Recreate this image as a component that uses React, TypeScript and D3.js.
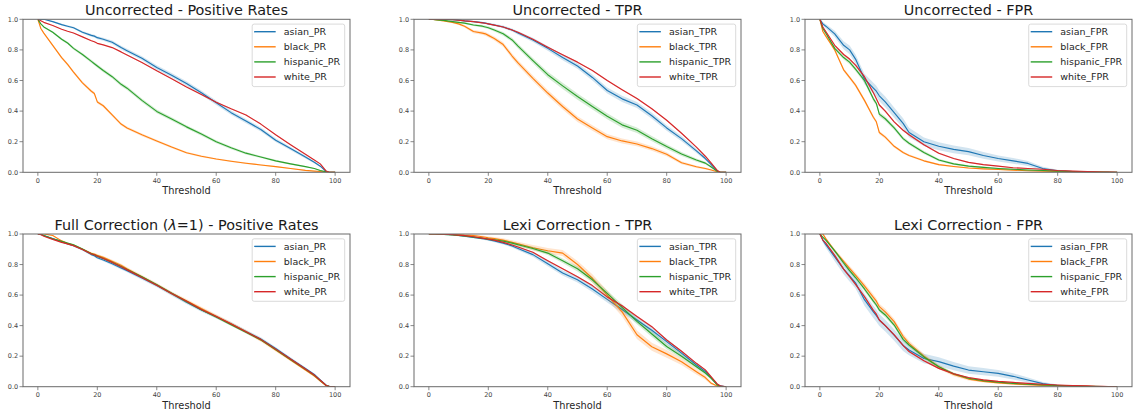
import React from 'react';
import * as d3 from 'd3';

// Threshold grid shared by every series
const THRESHOLDS = [0, 1, 2, 5, 8, 10, 12, 15, 18, 19, 20, 22, 25, 28, 30, 35, 40, 45, 50, 55, 60, 65, 70, 75, 80, 85, 90, 93, 95, 97, 98, 100];
const GROUPS = ['asian', 'black', 'hispanic', 'white'];
const COLORS = ['#1f77b4', '#ff7f0e', '#2ca02c', '#d62728'];
const X_TICKS = [0, 20, 40, 60, 80, 100];
const Y_TICKS = [0, 0.2, 0.4, 0.6, 0.8, 1.0];

// Uncorrected - Positive Rates
const uncPR_asian = [1, 1, 1, 0.985, 0.965, 0.955, 0.945, 0.915, 0.895, 0.89, 0.88, 0.87, 0.85, 0.815, 0.795, 0.745, 0.685, 0.635, 0.58, 0.52, 0.455, 0.39, 0.335, 0.28, 0.21, 0.155, 0.1, 0.065, 0.04, 0.005, 0, 0];
const uncPR_black = [1, 0.94, 0.91, 0.83, 0.75, 0.705, 0.655, 0.585, 0.53, 0.515, 0.46, 0.435, 0.375, 0.315, 0.29, 0.245, 0.205, 0.165, 0.128, 0.105, 0.087, 0.072, 0.059, 0.048, 0.037, 0.025, 0.013, 0.008, 0.005, 0.001, 0, 0];
const uncPR_hispanic = [1, 0.97, 0.95, 0.915, 0.87, 0.845, 0.81, 0.77, 0.725, 0.71, 0.695, 0.665, 0.625, 0.575, 0.55, 0.47, 0.398, 0.348, 0.297, 0.25, 0.2, 0.16, 0.125, 0.1, 0.075, 0.055, 0.037, 0.025, 0.012, 0.003, 0, 0];
const uncPR_white = [1, 0.99, 0.98, 0.96, 0.935, 0.922, 0.91, 0.885, 0.86, 0.853, 0.843, 0.833, 0.815, 0.787, 0.767, 0.718, 0.663, 0.612, 0.558, 0.508, 0.458, 0.415, 0.375, 0.315, 0.245, 0.18, 0.118, 0.08, 0.055, 0.008, 0, 0];
const uncPR_ci = [0.015, 0.01, 0.012, 0.004];

// Uncorrected - TPR
const uncTPR_asian = [1, 1, 1, 1, 0.998, 0.995, 0.99, 0.985, 0.978, 0.975, 0.97, 0.963, 0.95, 0.93, 0.91, 0.865, 0.81, 0.75, 0.695, 0.62, 0.535, 0.48, 0.44, 0.37, 0.29, 0.22, 0.14, 0.09, 0.05, 0.01, 0, 0];
const uncTPR_black = [1, 1, 0.998, 0.99, 0.98, 0.97, 0.955, 0.92, 0.91, 0.905, 0.895, 0.875, 0.835, 0.76, 0.715, 0.614, 0.518, 0.43, 0.348, 0.29, 0.233, 0.205, 0.185, 0.155, 0.118, 0.062, 0.036, 0.025, 0.015, 0.004, 0, 0];
const uncTPR_hispanic = [1, 1, 0.998, 0.993, 0.985, 0.98, 0.975, 0.963, 0.955, 0.95, 0.945, 0.93, 0.905, 0.865, 0.825, 0.73, 0.638, 0.565, 0.495, 0.43, 0.366, 0.31, 0.275, 0.22, 0.168, 0.12, 0.08, 0.06, 0.035, 0.006, 0, 0];
const uncTPR_white = [1, 1, 1, 1, 0.998, 0.995, 0.99, 0.985, 0.977, 0.974, 0.97, 0.962, 0.95, 0.93, 0.915, 0.87, 0.818, 0.768, 0.72, 0.665, 0.6, 0.54, 0.482, 0.415, 0.34, 0.255, 0.165, 0.105, 0.06, 0.012, 0, 0];
const uncTPR_ci = [0.02, 0.02, 0.02, 0.005];

// Uncorrected - FPR
const uncFPR_asian = [1, 0.97, 0.955, 0.905, 0.83, 0.8, 0.74, 0.61, 0.55, 0.53, 0.5, 0.46, 0.39, 0.32, 0.26, 0.2, 0.17, 0.15, 0.135, 0.11, 0.09, 0.075, 0.058, 0.025, 0.01, 0.004, 0.001, 0, 0, 0, 0, 0];
const uncFPR_black = [1, 0.92, 0.89, 0.8, 0.67, 0.62, 0.57, 0.47, 0.36, 0.33, 0.26, 0.23, 0.17, 0.13, 0.11, 0.075, 0.05, 0.038, 0.028, 0.022, 0.018, 0.014, 0.01, 0.008, 0.005, 0.003, 0.002, 0.001, 0.001, 0, 0, 0];
const uncFPR_hispanic = [1, 0.94, 0.91, 0.81, 0.75, 0.72, 0.675, 0.6, 0.48, 0.45, 0.38, 0.35, 0.29, 0.22, 0.19, 0.13, 0.08, 0.055, 0.04, 0.032, 0.025, 0.02, 0.015, 0.012, 0.008, 0.005, 0.003, 0.002, 0.001, 0.001, 0, 0];
const uncFPR_white = [1, 0.95, 0.92, 0.83, 0.77, 0.74, 0.7, 0.625, 0.52, 0.48, 0.44, 0.4, 0.33, 0.275, 0.245, 0.18, 0.125, 0.09, 0.065, 0.05, 0.04, 0.03, 0.025, 0.02, 0.012, 0.008, 0.005, 0.003, 0.002, 0.001, 0.001, 0];
const uncFPR_ci = [0.035, 0.012, 0.015, 0.008];

// Full Correction - Positive Rates
const fullPR_asian = [1, 0.998, 0.99, 0.97, 0.95, 0.935, 0.923, 0.898, 0.865, 0.858, 0.845, 0.83, 0.805, 0.777, 0.76, 0.712, 0.662, 0.608, 0.553, 0.503, 0.458, 0.412, 0.362, 0.312, 0.25, 0.183, 0.12, 0.08, 0.045, 0.01, 0.003, 0];
const fullPR_black = [1, 1, 1, 0.99, 0.955, 0.937, 0.926, 0.9, 0.873, 0.868, 0.86, 0.847, 0.822, 0.795, 0.772, 0.72, 0.668, 0.612, 0.562, 0.512, 0.462, 0.412, 0.36, 0.305, 0.24, 0.175, 0.11, 0.07, 0.037, 0.006, 0.001, 0];
const fullPR_hispanic = [1, 0.997, 0.99, 0.968, 0.952, 0.94, 0.93, 0.902, 0.87, 0.864, 0.855, 0.84, 0.815, 0.787, 0.768, 0.72, 0.668, 0.612, 0.558, 0.504, 0.457, 0.405, 0.357, 0.308, 0.244, 0.178, 0.114, 0.074, 0.04, 0.008, 0.002, 0];
const fullPR_white = [1, 0.996, 0.985, 0.965, 0.945, 0.935, 0.924, 0.899, 0.869, 0.864, 0.854, 0.839, 0.814, 0.785, 0.765, 0.715, 0.665, 0.61, 0.56, 0.505, 0.46, 0.41, 0.36, 0.31, 0.246, 0.181, 0.116, 0.076, 0.042, 0.008, 0.002, 0];
const fullPR_ci = [0.012, 0.012, 0.008, 0.004];

// Lexi Correction - TPR
const lexTPR_asian = [1, 1, 1, 0.998, 0.995, 0.99, 0.985, 0.978, 0.97, 0.967, 0.963, 0.955, 0.94, 0.922, 0.905, 0.865, 0.805, 0.745, 0.7, 0.64, 0.572, 0.505, 0.437, 0.37, 0.295, 0.22, 0.142, 0.1, 0.058, 0.015, 0.005, 0];
const lexTPR_black = [1, 1, 1, 1, 0.998, 0.996, 0.993, 0.99, 0.982, 0.979, 0.975, 0.97, 0.96, 0.945, 0.935, 0.91, 0.89, 0.875, 0.8, 0.71, 0.6, 0.49, 0.34, 0.262, 0.215, 0.164, 0.098, 0.06, 0.022, 0.004, 0, 0];
const lexTPR_hispanic = [1, 1, 1, 0.998, 0.994, 0.99, 0.987, 0.98, 0.972, 0.969, 0.966, 0.962, 0.953, 0.94, 0.93, 0.905, 0.875, 0.825, 0.772, 0.7, 0.611, 0.52, 0.428, 0.345, 0.263, 0.2, 0.131, 0.09, 0.055, 0.012, 0.003, 0];
const lexTPR_white = [1, 1, 1, 0.999, 0.996, 0.993, 0.989, 0.982, 0.973, 0.97, 0.966, 0.96, 0.945, 0.928, 0.915, 0.88, 0.825, 0.772, 0.72, 0.662, 0.588, 0.53, 0.46, 0.393, 0.306, 0.232, 0.153, 0.11, 0.065, 0.018, 0.006, 0];
const lexTPR_ci = [0.02, 0.03, 0.02, 0.006];

// Lexi Correction - FPR
const lexFPR_asian = [1, 0.96, 0.93, 0.85, 0.77, 0.725, 0.68, 0.57, 0.49, 0.465, 0.437, 0.4, 0.338, 0.27, 0.24, 0.185, 0.164, 0.135, 0.109, 0.098, 0.087, 0.068, 0.044, 0.02, 0.008, 0.003, 0.001, 0, 0, 0, 0, 0];
const lexFPR_black = [1, 1, 0.97, 0.89, 0.82, 0.775, 0.73, 0.66, 0.585, 0.56, 0.524, 0.49, 0.426, 0.33, 0.284, 0.2, 0.13, 0.08, 0.05, 0.035, 0.025, 0.018, 0.013, 0.009, 0.006, 0.004, 0.002, 0.001, 0, 0, 0, 0];
const lexFPR_hispanic = [1, 0.98, 0.96, 0.89, 0.81, 0.76, 0.715, 0.64, 0.56, 0.535, 0.502, 0.47, 0.404, 0.31, 0.273, 0.195, 0.13, 0.085, 0.055, 0.04, 0.03, 0.022, 0.016, 0.012, 0.008, 0.005, 0.003, 0.002, 0.001, 0, 0, 0];
const lexFPR_white = [1, 0.96, 0.94, 0.86, 0.77, 0.72, 0.67, 0.59, 0.5, 0.475, 0.437, 0.4, 0.34, 0.27, 0.23, 0.17, 0.12, 0.085, 0.06, 0.045, 0.035, 0.028, 0.022, 0.016, 0.011, 0.008, 0.005, 0.003, 0.002, 0.001, 0.001, 0];
const lexFPR_ci = [0.04, 0.02, 0.015, 0.008];

type Panel = { title: React.ReactNode; suffix: string; series: number[][]; ci: number[]; col: number; row: number };

const PANELS: Panel[] = [
  { title: 'Uncorrected - Positive Rates', suffix: 'PR', series: [uncPR_asian, uncPR_black, uncPR_hispanic, uncPR_white], ci: uncPR_ci, col: 0, row: 0 },
  { title: 'Uncorrected - TPR', suffix: 'TPR', series: [uncTPR_asian, uncTPR_black, uncTPR_hispanic, uncTPR_white], ci: uncTPR_ci, col: 1, row: 0 },
  { title: 'Uncorrected - FPR', suffix: 'FPR', series: [uncFPR_asian, uncFPR_black, uncFPR_hispanic, uncFPR_white], ci: uncFPR_ci, col: 2, row: 0 },
  {
    title: (<>Full Correction (<tspan fontStyle="italic">λ</tspan>=1) - Positive Rates</>),
    suffix: 'PR', series: [fullPR_asian, fullPR_black, fullPR_hispanic, fullPR_white], ci: fullPR_ci, col: 0, row: 1,
  },
  { title: 'Lexi Correction - TPR', suffix: 'TPR', series: [lexTPR_asian, lexTPR_black, lexTPR_hispanic, lexTPR_white], ci: lexTPR_ci, col: 1, row: 1 },
  { title: 'Lexi Correction - FPR', suffix: 'FPR', series: [lexFPR_asian, lexFPR_black, lexFPR_hispanic, lexFPR_white], ci: lexFPR_ci, col: 2, row: 1 },
];

const COL_LEFT = [23, 414, 805];
const ROW_TOP = [19.3, 234];
const AX_W = 327;
const AX_H = [153, 152.7];
const FONT = '"DejaVu Sans", Verdana, sans-serif';
const SPINE = '#6a6a6a';
const TICK_TEXT = '#444';

let measureCtx: CanvasRenderingContext2D | null = null;
function textWidth(s: string, size: number) {
  if (!measureCtx) measureCtx = document.createElement('canvas').getContext('2d');
  if (!measureCtx) return s.length * size * 0.6;
  measureCtx.font = `${size}px "DejaVu Sans"`;
  return measureCtx.measureText(s).width;
}

function PanelView({ p, idx }: { p: Panel; idx: number }) {
  const left = COL_LEFT[p.col];
  const top = ROW_TOP[p.row];
  const h = AX_H[p.row];
  const right = left + AX_W;
  const bottom = top + h;
  const x = d3.scaleLinear().domain([-5, 105]).range([left, right]);
  const y = d3.scaleLinear().domain([0, 1]).range([bottom, top]);
  const line = d3.line<number>().x((_, i) => x(THRESHOLDS[i])).y((d) => y(d));
  const clipId = `clip-${idx}`;

  const legendFont = 9.5;
  const labels = GROUPS.map((g) => `${g}_${p.suffix}`);
  const maxW = Math.max(...labels.map((l) => textWidth(l, legendFont)));
  const legW = 31.6 + maxW + 4.5;
  const legR = right - 5.3;
  const legL = legR - legW;
  const legT = top + 4.8;
  const legH = 62.5;

  return (
    <g>
      <defs>
        <clipPath id={clipId}>
          <rect x={left} y={top} width={AX_W} height={h} />
        </clipPath>
      </defs>
      <g clipPath={`url(#${clipId})`}>
        {p.series.map((s, si) => {
          const ci = p.ci[si];
          const area = d3
            .area<number>()
            .x((_, i) => x(THRESHOLDS[i]))
            .y0((d) => y(Math.max(0, d - ci * Math.sqrt(4 * d * (1 - d)))))
            .y1((d) => y(Math.min(1, d + ci * Math.sqrt(4 * d * (1 - d)))));
          return (
            <g key={si}>
              <path d={area(s) || ''} fill={COLORS[si]} fillOpacity={0.2} stroke="none" />
              <path d={line(s) || ''} fill="none" stroke={COLORS[si]} strokeWidth={1.15} strokeLinejoin="round" />
            </g>
          );
        })}
      </g>
      {/* spines */}
      <rect x={left} y={top} width={AX_W} height={h} fill="none" stroke={SPINE} strokeWidth={1} />
      {/* x ticks */}
      {X_TICKS.map((t) => (
        <g key={`x${t}`}>
          <line x1={x(t)} x2={x(t)} y1={bottom} y2={bottom + 3.5} stroke={SPINE} strokeWidth={0.8} />
          <text x={x(t)} y={bottom + 10.2} fontSize={6.5} fill={TICK_TEXT} textAnchor="middle" fontFamily={FONT}>
            {t}
          </text>
        </g>
      ))}
      {/* y ticks */}
      {Y_TICKS.map((t) => (
        <g key={`y${t}`}>
          <line x1={left - 3.5} x2={left} y1={y(t)} y2={y(t)} stroke={SPINE} strokeWidth={0.8} />
          <text x={left - 4.8} y={y(t)} dy="0.35em" fontSize={6.5} fill={TICK_TEXT} textAnchor="end" fontFamily={FONT}>
            {t.toFixed(1)}
          </text>
        </g>
      ))}
      {/* title */}
      <text x={(left + right) / 2} y={top - 4.4} fontSize={14.4} textAnchor="middle" fill="#1a1a1a" fontFamily={FONT}>
        {p.title}
      </text>
      {/* x label */}
      <text x={(left + right) / 2} y={bottom + 21.8} fontSize={9.8} textAnchor="middle" fill="#262626" fontFamily={FONT}>
        Threshold
      </text>
      {/* legend */}
      <g>
        <rect x={legL} y={legT} width={legW} height={legH} rx={2} ry={2} fill="#ffffff" fillOpacity={0.85} stroke="#d0d0d0" strokeWidth={0.8} />
        {labels.map((l, i) => {
          const ly = legT + 7.6 + i * 15.1;
          return (
            <g key={l}>
              <line x1={legL + 2} x2={legL + 23.5} y1={ly} y2={ly} stroke={COLORS[i]} strokeWidth={1.4} />
              <text x={legL + 31.6} y={ly} dy="0.35em" fontSize={legendFont} fill="#262626" fontFamily={FONT}>
                {l}
              </text>
            </g>
          );
        })}
      </g>
    </g>
  );
}

export default function App() {
  return (
    <svg
      width={1134}
      height={415}
      style={{ position: 'absolute', left: 0, top: 0, background: '#fff' }}
      xmlns="http://www.w3.org/2000/svg"
    >
      <rect x={0} y={0} width={1134} height={415} fill="#fff" />
      {PANELS.map((p, i) => (
        <PanelView key={i} p={p} idx={i} />
      ))}
    </svg>
  );
}
